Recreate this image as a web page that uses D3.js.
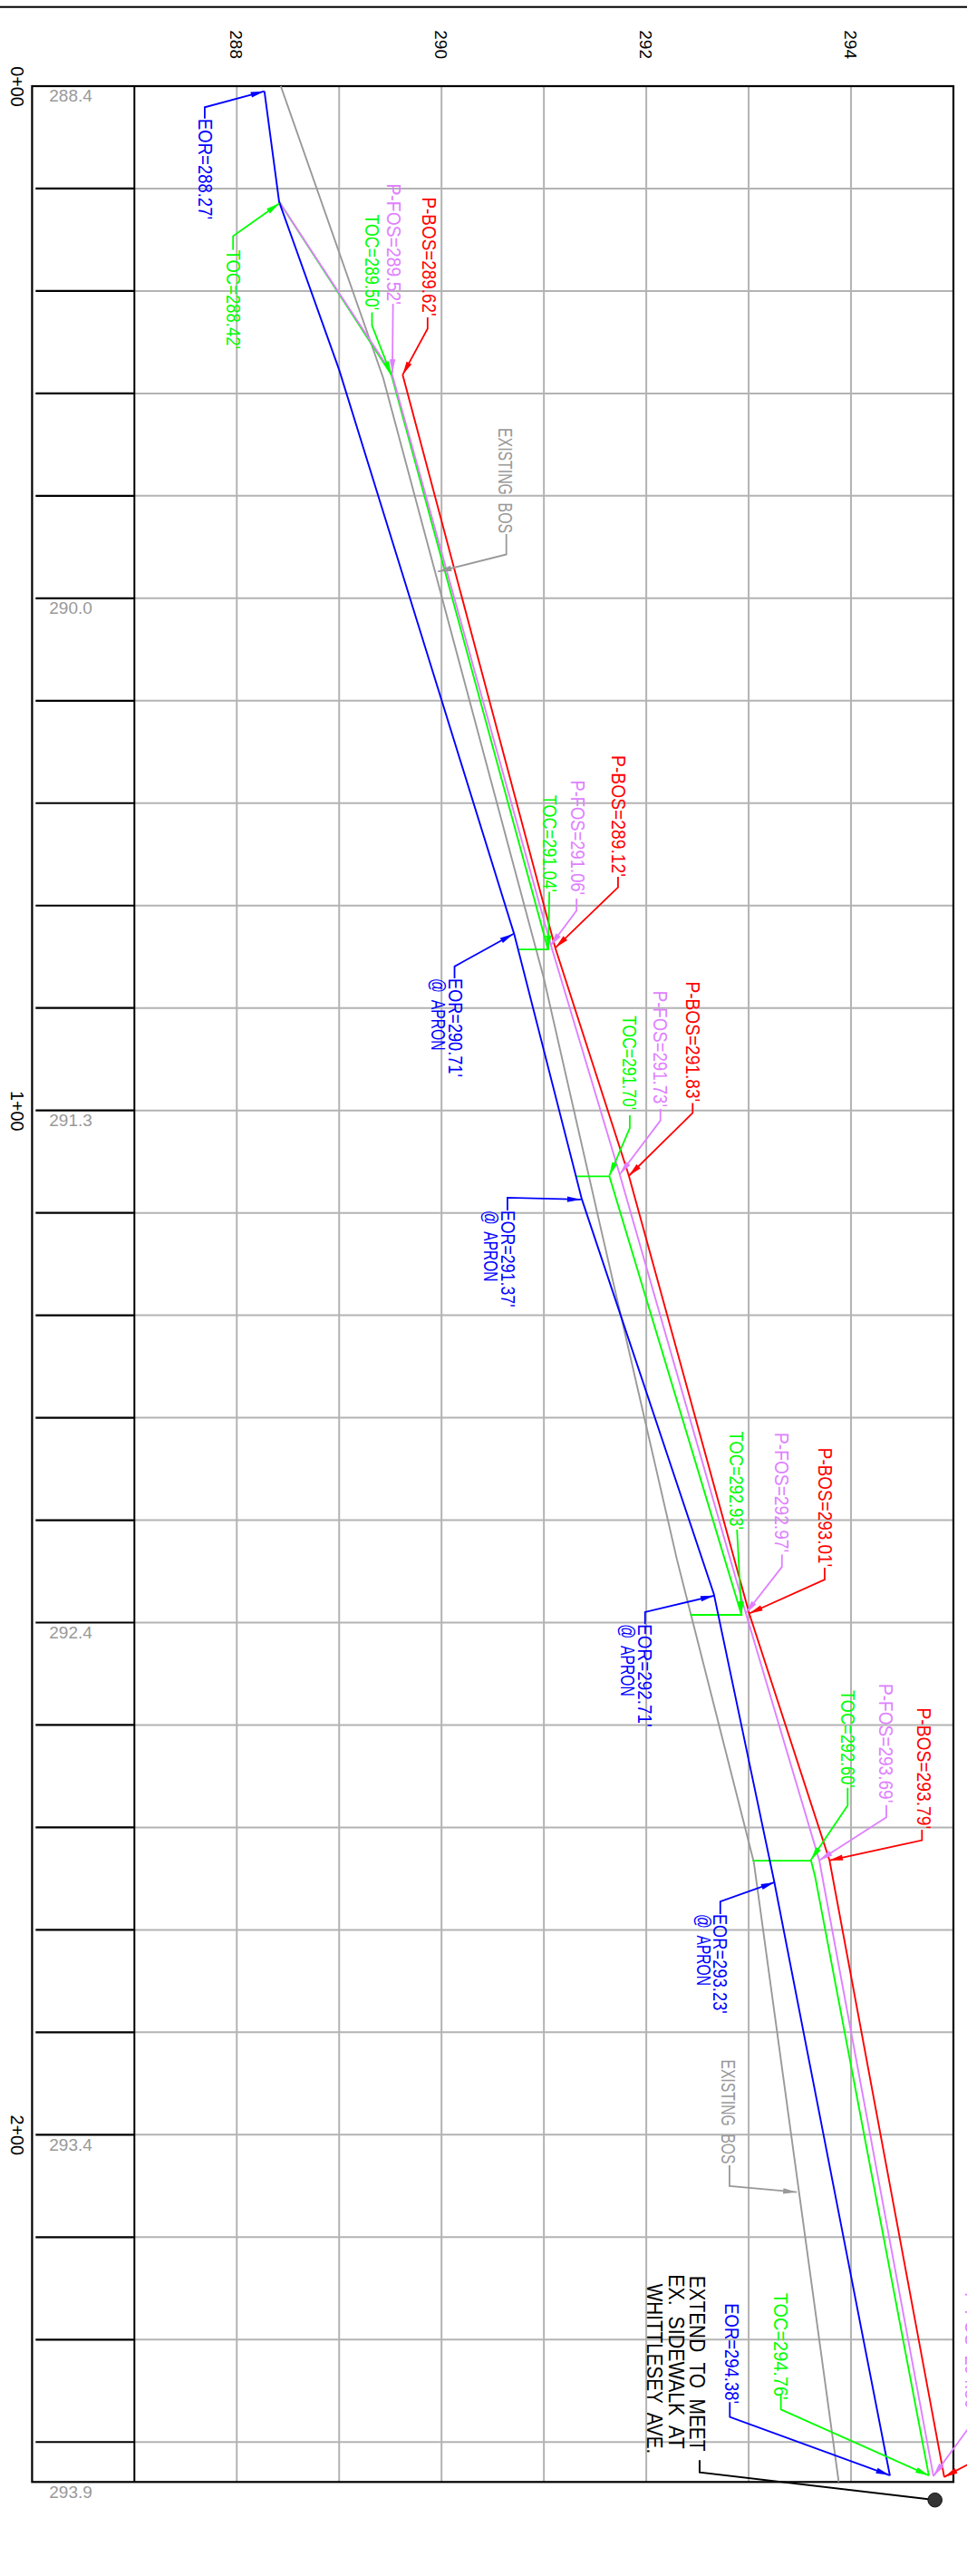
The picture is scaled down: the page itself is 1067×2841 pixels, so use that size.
<!DOCTYPE html>
<html>
<head>
<meta charset="utf-8">
<script src="https://cdn.jsdelivr.net/npm/d3@7"></script>
<style>
  html, body { margin: 0; background: #fff; }
  svg { display: block; }
  text { font-family: "Liberation Sans", Arial, sans-serif; white-space: pre; }
</style>
</head>
<body>
<svg id="chart" width="1067" height="2841"></svg>
<script>
// All points are [station in ft, elevation in ft]
const elevationTicks = [288, 290, 292, 294];
const gridElevations = [288, 289, 290, 291, 292, 293, 294];
const gridStations = d3.range(10, 231, 10);
const stationTicks = [0, 100, 200];
const bandStations = [0, 50, 100, 150, 200, 233.9];
const bandLabels = ['288.4', '290.0', '291.3', '292.4', '293.4', '293.9'];

const existingBos = [[0, 288.43], [28.48, 289.43], [87.13, 291.0], [111.04, 291.545], [143.86, 292.3], [173.36, 293.05], [233.9, 293.88]];
const eor = [[0.5, 288.27], [11.3, 288.414], [27.7, 289.0], [82.8, 290.71], [108.65, 291.37], [147.2, 292.66], [175.3, 293.25], [233.3, 294.38]];
const tocSegments = [
  [[11.31, 288.416], [28.18, 289.51], [84.28, 291.04], [84.28, 290.75]],
  [[106.44, 291.31], [106.44, 291.64], [149.25, 292.93], [149.25, 292.43]],
  [[173.25, 293.04], [173.25, 293.61], [174.84, 293.65], [233.27, 294.76]]
];
const fos = [[11.31, 288.416], [28.04, 289.514], [83.92, 291.07], [106.23, 291.74], [149.18, 292.975], [173.22, 293.69], [233.33, 294.805]];
const bos = [[28.18, 289.62], [84.1, 291.11], [106.38, 291.83], [149.1, 293.005], [173.22, 293.79], [233.4, 294.91]];

// labels: [text, baseline elevation, first station, last station]
const eorCallouts = [
  { leader: [[3.16, 287.687], [2.06, 287.687], [0.5, 288.269]], labels: [["EOR=288.27'", 287.626, 3.19, 13.01]] },
  { leader: [[87.11, 290.127], [85.94, 290.127], [82.77, 290.702]], labels: [["EOR=290.71'", 290.066, 87.11, 96.74], ['@  APRON', 289.903, 87.11, 94.14]] },
  { leader: [[109.76, 290.644], [108.52, 290.644], [108.7, 291.361]], labels: [["EOR=291.37'", 290.579, 109.76, 119.2], ['@  APRON', 290.416, 109.76, 116.7]] },
  { leader: [[150.15, 291.988], [148.97, 291.988], [147.37, 292.663]], labels: [["EOR=292.71'", 291.922, 150.15, 160.2], ['@  APRON', 291.754, 150.15, 157.2]] },
  { leader: [[178.45, 292.723], [177.24, 292.723], [175.35, 293.253]], labels: [["EOR=293.23'", 292.657, 178.45, 188.18], ['@  APRON', 292.495, 178.45, 185.45]] },
  { leader: [[226.1, 292.816], [227.56, 292.816], [233.24, 294.376]], labels: [["EOR=294.38'", 292.766, 216.45, 226.27]] }
];
const tocCallouts = [
  { leader: [[15.97, 287.964], [14.64, 287.964], [11.44, 288.416]], labels: [["TOC=288.42'", 287.904, 15.97, 25.68]] },
  { leader: [[22.09, 289.321], [23.37, 289.321], [28.18, 289.509]], labels: [["TOC=289.50'", 289.254, 12.52, 21.87]] },
  { leader: [[78.65, 291.053], [84.25, 291.043]], labels: [["TOC=291.04'", 290.988, 69.2, 78.7]] },
  { leader: [[100.48, 291.839], [101.72, 291.839], [106.38, 291.639]], labels: [["TOC=291.70'", 291.771, 90.74, 99.95]] },
  { leader: [[140.93, 292.886], [149.26, 292.931]], labels: [["TOC=292.93'", 292.813, 131.33, 140.93]] },
  { leader: [[166.13, 293.967], [167.85, 293.967], [173.19, 293.607]], labels: [["TOC=292.60'", 293.898, 156.6, 166.13]] },
  { leader: [[225.3, 293.315], [226.83, 293.315], [233.27, 294.761]], labels: [["TOC=294.76'", 293.247, 215.43, 225.9]] }
];
const fosCallouts = [
  { leader: [[21.25, 289.526], [28.0, 289.52]], labels: [["P-FOS=289.52'", 289.47, 9.51, 21.33]] },
  { leader: [[79.32, 291.319], [80.49, 291.319], [83.94, 291.062]], labels: [["P-FOS=291.06'", 291.26, 67.76, 78.97]] },
  { leader: [[99.85, 292.138], [100.99, 292.138], [106.23, 291.742]], labels: [["P-FOS=291.73'", 292.072, 88.32, 99.67]] },
  { leader: [[143.35, 293.325], [144.57, 293.325], [149.11, 292.97]], labels: [["P-FOS=292.97'", 293.259, 131.46, 143.15]] },
  { leader: [[167.81, 294.345], [169.0, 294.345], [173.22, 293.69]], labels: [["P-FOS=293.69'", 294.274, 155.98, 167.6]] },
  { leader: [[226.64, 295.204], [227.88, 295.204], [233.33, 294.805]], labels: [["P-FOS=294.80'", 295.115, 215.4, 227.07]] }
];
const bosCallouts = [
  { leader: [[22.58, 289.864], [23.68, 289.864], [28.18, 289.62]], labels: [["P-BOS=289.62'", 289.812, 10.84, 22.46]] },
  { leader: [[77.19, 291.724], [78.22, 291.724], [84.1, 291.114]], labels: [["P-BOS=289.12'", 291.662, 65.33, 77.19]] },
  { leader: [[99.27, 292.453], [100.24, 292.453], [106.38, 291.83]], labels: [["P-BOS=291.83'", 292.392, 87.41, 99.16]] },
  { leader: [[144.65, 293.742], [145.8, 293.742], [149.11, 293.005]], labels: [["P-BOS=293.01'", 293.681, 132.94, 144.57]] },
  { leader: [[170.22, 294.693], [171.25, 294.693], [173.22, 293.787]], labels: [["P-BOS=293.79'", 294.646, 158.32, 170.15]] },
  { leader: [[230.7, 295.425], [233.42, 294.909]], labels: [] }
];
const existingCallouts = [
  { leader: [[43.72, 290.633], [45.72, 290.633], [47.4, 289.965]], labels: [['EXISTING  BOS', 290.556, 33.38, 43.64]] },
  { leader: [[202.99, 292.813], [205.01, 292.813], [205.61, 293.47]], labels: [['EXISTING  BOS', 292.735, 192.66, 202.85]] }
];
const noteLeader = [[231.77, 292.521], [232.96, 292.521], [235.66, 294.82]];
const noteLabels = [
  ['EXTEND  TO  MEET', 292.428, 213.75, 230.9],
  ['EX.  SIDEWALK  AT', 292.223, 213.62, 230.67],
  ['WHITTLESEY  AVE.', 292.012, 214.56, 231.15]
];

const COLORS = { eor: '#0000ff', toc: '#00ff00', fos: '#df80ff', bos: '#ff0000', existing: '#999999' };
const LABEL_SIZE = 21.5;

const svg = d3.select('#chart');
const x = d3.scaleLinear().domain([287, 295]).range([148.3, 1052]);
const y = d3.scaleLinear().domain([0, 233.9]).range([95, 2737.3]);
const bandLeft = 35.4;
const pathLine = d3.line().x((d) => x(d[1])).y((d) => y(d[0]));

// rule across the top of the sheet
svg.append('rect').attr('x', 0).attr('y', 6.7).attr('width', 1067).attr('height', 2).attr('fill', '#000');

// grid
const grid = svg.append('g').attr('stroke', '#b3b3b3').attr('stroke-width', 2);
grid.selectAll('.gridV').data(gridElevations).join('line')
  .attr('x1', (d) => x(d)).attr('x2', (d) => x(d))
  .attr('y1', y.range()[0]).attr('y2', y.range()[1]);
grid.selectAll('.gridH').data(gridStations).join('line')
  .attr('x1', x.range()[0]).attr('x2', x.range()[1])
  .attr('y1', (d) => y(d)).attr('y2', (d) => y(d));

// station ticks inside the left band
svg.append('g').selectAll('line').data(gridStations).join('line')
  .attr('x1', 39.3).attr('x2', x.range()[0])
  .attr('y1', (d) => y(d)).attr('y2', (d) => y(d))
  .attr('stroke', '#000').attr('stroke-width', 2.2);

// frame
svg.append('rect')
  .attr('x', bandLeft).attr('y', y.range()[0])
  .attr('width', x.range()[1] - bandLeft).attr('height', y.range()[1] - y.range()[0])
  .attr('fill', 'none').attr('stroke', '#000').attr('stroke-width', 2.2);
svg.append('line')
  .attr('x1', x.range()[0]).attr('x2', x.range()[0])
  .attr('y1', y.range()[0]).attr('y2', y.range()[1])
  .attr('stroke', '#000').attr('stroke-width', 2);

// axes, everything rotated to read down the sheet
const topAxis = svg.append('g').attr('transform', 'translate(0,33.3)')
  .call(d3.axisTop(x).tickValues(elevationTicks).tickSize(0).tickFormat(d3.format('d')));
topAxis.select('.domain').remove();
topAxis.selectAll('text')
  .attr('x', 0).attr('y', 7.5).attr('dy', 0).attr('text-anchor', 'start')
  .attr('transform', 'rotate(90)')
  .style('font-family', '"Liberation Sans"').style('font-size', '19px').attr('fill', '#000');

const leftAxis = svg.append('g').attr('transform', 'translate(11.7,0)')
  .call(d3.axisLeft(y).tickValues(stationTicks).tickSize(0).tickFormat((d) => `${d / 100}+00`));
leftAxis.select('.domain').remove();
leftAxis.selectAll('text')
  .attr('x', 0).attr('y', 0).attr('dy', 0).attr('text-anchor', 'middle')
  .attr('transform', 'rotate(90)')
  .style('font-family', '"Liberation Sans"').style('font-size', '19.8px').attr('fill', '#000');

// existing elevation readings in the band
svg.append('g').selectAll('text').data(bandStations).join('text')
  .attr('x', 54.3)
  .attr('y', (d) => y(d) + 17.3)
  .attr('font-size', 19)
  .attr('fill', '#999')
  .text((d, i) => bandLabels[i]);

// profile lines
function drawProfile(points, color) {
  svg.append('path').datum(points)
    .attr('d', pathLine)
    .attr('fill', 'none')
    .attr('stroke', color)
    .attr('stroke-width', 1.9)
    .attr('stroke-linejoin', 'miter');
}
drawProfile(existingBos, COLORS.existing);
tocSegments.forEach((segment) => drawProfile(segment, COLORS.toc));
drawProfile(fos, COLORS.fos);
drawProfile(bos, COLORS.bos);
drawProfile(eor, COLORS.eor);

function arrowHead(from, to) {
  const angle = Math.atan2(y(to[0]) - y(from[0]), x(to[1]) - x(from[1]));
  const len = 15;
  const half = 3.2;
  const tipX = x(to[1]);
  const tipY = y(to[0]);
  const baseX = tipX - len * Math.cos(angle);
  const baseY = tipY - len * Math.sin(angle);
  const nx = -Math.sin(angle) * half;
  const ny = Math.cos(angle) * half;
  return `${tipX},${tipY} ${baseX + nx},${baseY + ny} ${baseX - nx},${baseY - ny}`;
}

function drawLabels(labels, color, size) {
  svg.append('g').selectAll('text').data(labels).join('text')
    .attr('transform', (d) => `translate(${x(d[1])},${y(d[2])}) rotate(90)`)
    .attr('font-size', size)
    .attr('fill', color)
    .attr('textLength', (d) => y(d[3]) - y(d[2]))
    .attr('lengthAdjust', 'spacingAndGlyphs')
    .text((d) => d[0]);
}

function drawCallouts(callouts, color) {
  callouts.forEach((c) => {
    const n = c.leader.length;
    svg.append('path').datum(c.leader)
      .attr('d', pathLine)
      .attr('fill', 'none')
      .attr('stroke', color)
      .attr('stroke-width', 1.8);
    svg.append('polygon')
      .attr('points', arrowHead(c.leader[n - 2], c.leader[n - 1]))
      .attr('fill', color);
    drawLabels(c.labels, color, LABEL_SIZE);
  });
}
drawCallouts(existingCallouts, COLORS.existing);
drawCallouts(tocCallouts, COLORS.toc);
drawCallouts(fosCallouts, COLORS.fos);
drawCallouts(bosCallouts, COLORS.bos);
drawCallouts(eorCallouts, COLORS.eor);

// note with the dot leader
svg.append('path').datum(noteLeader)
  .attr('d', pathLine)
  .attr('fill', 'none')
  .attr('stroke', '#000')
  .attr('stroke-width', 2);
svg.append('circle').datum(noteLeader[2])
  .attr('cx', (d) => x(d[1])).attr('cy', (d) => y(d[0]))
  .attr('r', 7.8)
  .attr('fill', '#333')
  .attr('stroke', '#111');
drawLabels(noteLabels, '#000', 24);
</script>
</body>
</html>
